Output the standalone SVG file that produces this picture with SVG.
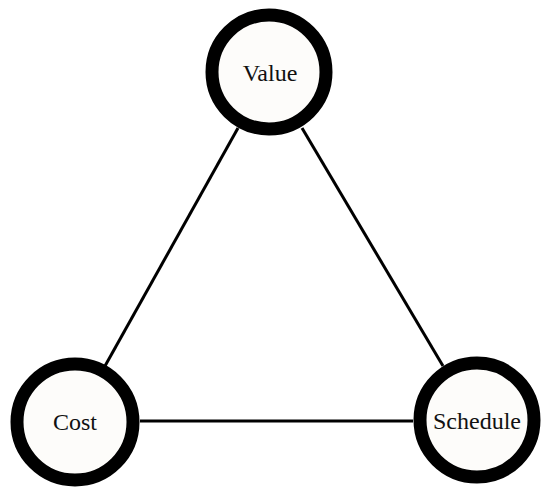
<svg xmlns="http://www.w3.org/2000/svg" width="550" height="499" viewBox="0 0 550 499">
<style>
.node{fill:#fdfcfa;stroke:#000;stroke-width:13}
.lbl{font-family:"Liberation Serif","Times New Roman",serif;font-size:24px;fill:#111;text-anchor:middle}
.edge{stroke:#000;stroke-width:3;fill:none}
</style>
<rect width="550" height="499" fill="#fff"/>
<g id="connectors">
<line class="edge" x1="238" y1="128" x2="105" y2="366"/>
<line class="edge" x1="302" y1="128" x2="443" y2="366"/>
<line class="edge" x1="140" y1="421" x2="413" y2="421"/>
</g>
<g id="value">
<circle class="node" cx="269" cy="72" r="57"/>
<text class="lbl" x="270" y="81">Value</text>
</g>
<g id="cost">
<circle class="node" cx="75" cy="422" r="58"/>
<text class="lbl" x="75" y="430">Cost</text>
</g>
<g id="schedule">
<circle class="node" cx="477" cy="420" r="57"/>
<text class="lbl" x="477" y="429">Schedule</text>
</g>
</svg>
